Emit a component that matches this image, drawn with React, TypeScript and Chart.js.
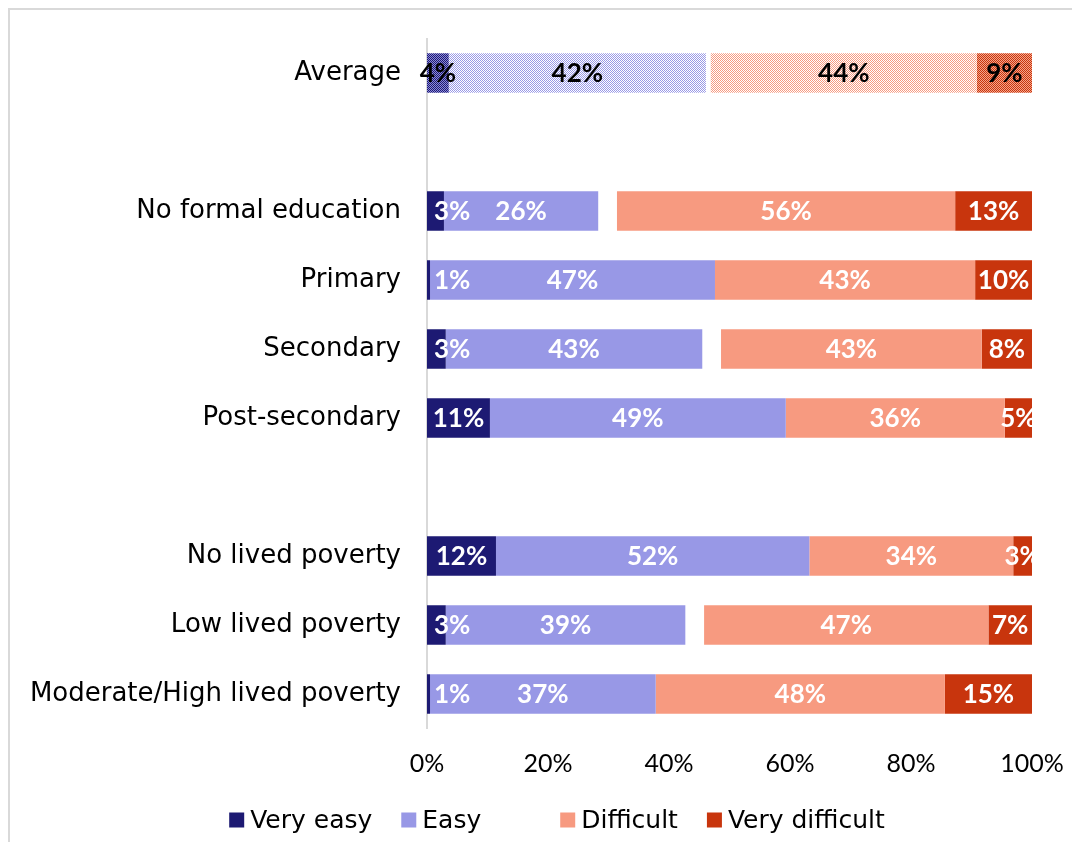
import React, { useEffect, useRef } from "react";
import { Chart, registerables } from "chart.js";

Chart.register(...registerables);

// ---- Data ----
const categories = [
  "Average",
  "",
  "No formal education",
  "Primary",
  "Secondary",
  "Post-secondary",
  "",
  "No lived poverty",
  "Low lived poverty",
  "Moderate/High lived poverty",
];

// bar segment sizes (%)
const veryEasy = [3.6, null, 2.8, 0.5, 3.1, 10.4, null, 11.4, 3.1, 0.5];
const easy = [42.5, null, 25.5, 47.1, 42.4, 48.9, null, 51.8, 39.6, 37.3];
const notShown = [0.8, null, 3.1, 0, 3.1, 0, null, 0, 3.1, 0];
const difficult = [44.0, null, 55.9, 43.0, 43.1, 36.2, null, 33.7, 47.0, 47.8];
const veryDifficult = [9.1, null, 12.7, 9.4, 8.3, 4.5, null, 3.1, 7.2, 14.4];

// printed labels (%)
const veryEasyLabels = [4, null, 3, 1, 3, 11, null, 12, 3, 1];
const easyLabels = [42, null, 26, 47, 43, 49, null, 52, 39, 37];
const difficultLabels = [44, null, 56, 43, 43, 36, null, 34, 47, 48];
const veryDifficultLabels = [9, null, 13, 10, 8, 5, null, 3, 7, 15];

const seriesNames = ["Very easy", "Easy", "", "Difficult", "Very difficult"];
const xTicks = [0, 20, 40, 60, 80, 100];

const COLORS = ["#1d1a73", "#9898e6", "rgba(0,0,0,0)", "#f79a80", "#c8350d"];

function makePattern(color: string, alt: string): CanvasPattern | string {
  const c = document.createElement("canvas");
  c.width = 2;
  c.height = 2;
  const g = c.getContext("2d");
  if (!g) return color;
  g.fillStyle = alt;
  g.fillRect(0, 0, 2, 2);
  g.fillStyle = color;
  g.fillRect(0, 0, 1, 1);
  g.fillRect(1, 1, 1, 1);
  return g.createPattern(c, "repeat") || color;
}

const PATTERN_ALT = ["#8c8ad8", "#ffffff", "#ffffff", "#ffffff", "#f5a58c"];

export default function App() {
  const ref = useRef<HTMLCanvasElement>(null);

  useEffect(() => {
    if (!ref.current) return;
    const values = [veryEasy, easy, notShown, difficult, veryDifficult];
    const labelSets = [veryEasyLabels, easyLabels, null, difficultLabels, veryDifficultLabels];

    const datasets = values.map((arr, di) => {
      const col = COLORS[di];
      const bg = categories.map((_, i) =>
        di !== 2 && i === 0 ? makePattern(col, PATTERN_ALT[di]) : col
      );
      return {
        label: seriesNames[di],
        data: arr,
        backgroundColor: bg,
        borderWidth: 0,
        barPercentage: 0.575,
        categoryPercentage: 1,
      };
    });

    const labelPlugin = {
      id: "segLabels",
      afterDatasetsDraw(chart: any) {
        const ctx = chart.ctx;
        const area = chart.chartArea;
        ctx.save();
        ctx.beginPath();
        ctx.rect(0, 0, area.right, chart.height);
        ctx.clip();
        ctx.font = "bold 26px Lato";
        ctx.textBaseline = "middle";
        labelSets.forEach((labels, di) => {
          if (!labels) return;
          const meta = chart.getDatasetMeta(di);
          meta.data.forEach((bar: any, i: number) => {
            const v = labels[i];
            if (v == null) return;
            const p = bar.getProps(["x", "base", "y"], true);
            const left = Math.min(p.x, p.base);
            const right = Math.max(p.x, p.base);
            const text = v + "%";
            ctx.fillStyle = i === 0 ? "#000000" : "#ffffff";
            const raw = values[di][i] as number;
            if (di === 0 && raw < 3.5) {
              ctx.textAlign = "left";
              ctx.fillText(text, left + 7, p.y + 1);
            } else {
              ctx.textAlign = "center";
              ctx.fillText(text, (left + right) / 2, p.y + 1);
            }
          });
        });
        ctx.restore();
      },
    };

    const legendPlugin = {
      id: "customLegend",
      afterDraw(chart: any) {
        const ctx = chart.ctx;
        ctx.save();
        ctx.font = "25px 'DejaVu Sans'";
        ctx.textBaseline = "middle";
        ctx.textAlign = "left";
        const box = 15;
        const gapText = 6;
        const gapItem = 29;
        const items = seriesNames.map((name, di) => {
          const w = name ? box + gapText + ctx.measureText(name).width : box + gapText;
          return { name, color: COLORS[di], w };
        });
        const total = items.reduce((s, it) => s + it.w, 0) + gapItem * (items.length - 1);
        let x = 547 - total / 2;
        const yc = 810;
        items.forEach((it) => {
          if (it.name) {
            ctx.fillStyle = it.color;
            ctx.fillRect(x, yc - box / 2, box, box);
            ctx.fillStyle = "#000000";
            ctx.fillText(it.name, x + box + gapText, yc + 1);
          }
          x += it.w + gapItem;
        });
        ctx.restore();
      },
    };

    const chart = new Chart(ref.current, {
      type: "bar",
      data: { labels: categories, datasets: datasets as any },
      options: {
        indexAxis: "y",
        animation: false,
        responsive: true,
        maintainAspectRatio: false,
        layout: { padding: { left: 0, right: 40, top: 28.5, bottom: 63.5 } },
        plugins: {
          legend: { display: false },
          tooltip: { enabled: false },
        },
        scales: {
          x: {
            stacked: true,
            min: 0,
            max: 100,
            grid: { display: false, drawTicks: false },
            border: { display: false },
            afterBuildTicks: (scale: any) => {
              scale.ticks = xTicks.map((v) => ({ value: v }));
            },
            afterFit: (scale: any) => {
              scale.height = 50;
              scale.paddingLeft = 0;
              scale.paddingRight = 0;
            },
            ticks: {
              padding: 20,
              color: "#000000",
              font: { family: "Lato", size: 25 },
              callback: (v: any) => v + "%",
              maxRotation: 0,
            },
          },
          y: {
            stacked: true,
            grid: { display: false, drawTicks: false },
            border: { display: true, color: "#d9d9d9", width: 2 },
            afterFit: (scale: any) => {
              scale.width = 417;
              scale.paddingTop = 0;
              scale.paddingBottom = 0;
            },
            ticks: {
              padding: 26,
              autoSkip: false,
              color: "#000000",
              font: { family: "'DejaVu Sans'", size: 26 },
            },
          },
        },
      },
      plugins: [labelPlugin, legendPlugin],
    });
    return () => chart.destroy();
  }, []);

  return (
    <div
      style={{
        width: 1064,
        height: 834,
        borderTop: "2px solid #d9d9d9",
        borderLeft: "2px solid #d9d9d9",
        boxSizing: "border-box",
        position: "relative",
        background: "#ffffff",
      }}
    >
      <div style={{ position: "absolute", left: 0, top: 0, width: 1062, height: 832 }}>
        <canvas ref={ref} />
      </div>
    </div>
  );
}
